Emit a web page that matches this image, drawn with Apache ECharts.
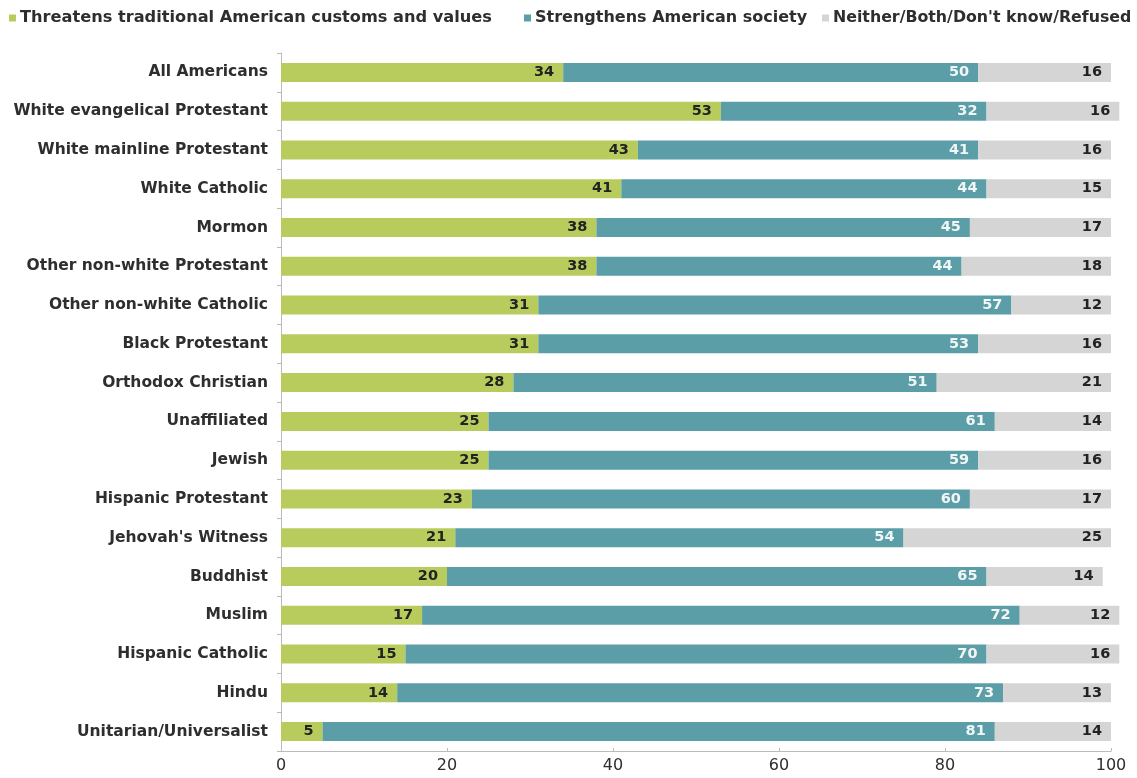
<!DOCTYPE html>
<html>
<head>
<meta charset="utf-8">
<script src="https://cdn.jsdelivr.net/npm/echarts@6/dist/echarts.min.js"></script>
<style>html,body{margin:0;padding:0;background:#fff;}#chart{width:1137px;height:778px;}</style>
</head>
<body>
<div id="chart"></div>
<script>
const categories = ["All Americans","White evangelical Protestant","White mainline Protestant","White Catholic","Mormon","Other non-white Protestant","Other non-white Catholic","Black Protestant","Orthodox Christian","Unaffiliated","Jewish","Hispanic Protestant","Jehovah's Witness","Buddhist","Muslim","Hispanic Catholic","Hindu","Unitarian/Universalist"];
const threatens = [34,53,43,41,38,38,31,31,28,25,25,23,21,20,17,15,14,5];
const strengthens = [50,32,41,44,45,44,57,53,51,61,59,60,54,65,72,70,73,81];
const neither = [16,16,16,15,17,18,12,16,21,14,16,17,25,14,12,16,13,14];
const seriesNames = ["Threatens traditional American customs and values","Strengthens American society","Neither/Both/Don't know/Refused"];
const xTicks = [0,20,40,60,80,100];

const WIDE = "'DejaVu Sans', Verdana, sans-serif";
const colors = ["#b8cc5e","#5b9ea7","#d5d5d5"];
const labelColors = ["#222","#f2f6f6","#222"];
const datasets = [threatens, strengthens, neither];
const legendLeft = [9, 524, 822];
const legendSize = [16.2, 16, 15.8];

const chart = echarts.init(document.getElementById('chart'));
chart.setOption({
  animation: false,
  textStyle: {fontFamily: WIDE},
  legend: seriesNames.map((n, i) => ({
    top: 10, left: legendLeft[i], padding: 0, itemWidth: 7, itemHeight: 7, itemGap: 0,
    icon: 'rect', selectedMode: false,
    textStyle: {fontSize: legendSize[i], color: '#2e2e2e', fontWeight: 'bold', fontFamily: WIDE, padding: [0,0,0,-1]},
    data: [n]
  })),
  grid: {left: 281, right: 26, top: 53, bottom: 27, containLabel: false},
  xAxis: {
    type: 'value', min: 0, max: 100, interval: 20,
    axisLine: {show: true, lineStyle: {color: '#bbb'}},
    axisTick: {show: true, inside: true, length: 3, lineStyle: {color: '#bbb'}},
    splitLine: {show: false},
    axisLabel: {fontSize: 16, color: '#2e2e2e', margin: 7, fontFamily: WIDE, formatter: v => xTicks.includes(v) ? String(v) : ''}
  },
  yAxis: {
    type: 'category', data: categories, inverse: true,
    axisLine: {show: true, lineStyle: {color: '#bbb'}},
    axisTick: {show: true, length: 4, lineStyle: {color: '#bbb'}},
    axisLabel: {fontSize: 15.5, color: '#2e2e2e', fontWeight: 'bold', margin: 13, fontFamily: WIDE}
  },
  series: datasets.map((d, i) => ({
    name: seriesNames[i], type: 'bar', stack: 'total', data: d,
    barWidth: '49%', clip: false,
    itemStyle: {color: colors[i]},
    label: {show: true, position: 'insideRight', distance: 9, color: labelColors[i], fontSize: 14.5, fontWeight: 'bold', fontFamily: WIDE}
  }))
});
</script>
</body>
</html>
